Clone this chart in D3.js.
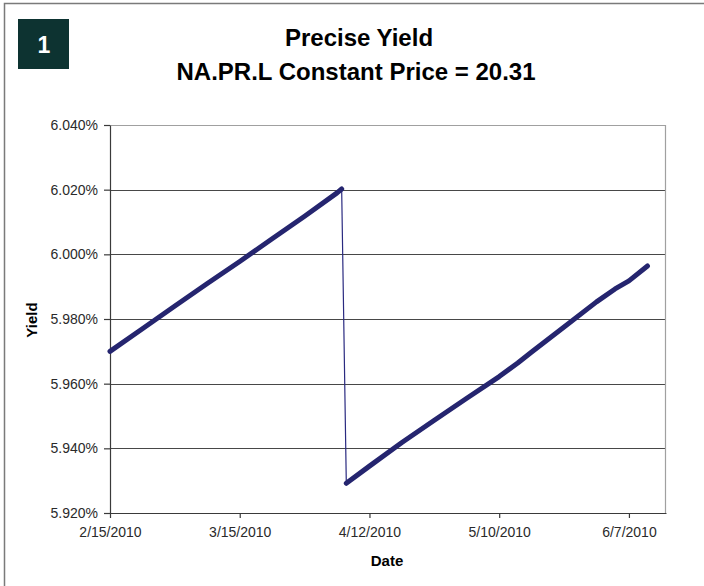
<!DOCTYPE html>
<html>
<head>
<meta charset="utf-8">
<script src="https://cdn.jsdelivr.net/npm/d3@7"></script>
<style>
  body { margin: 0; background: #fff; }
  text { font-family: Arial, "Liberation Sans", sans-serif; }
</style>
</head>
<body>
<div id="chart"></div>
<script>
// Data (yield in %)
var beforeDates = ["2/15/2010", "2/22/2010", "3/1/2010", "3/8/2010", "3/15/2010", "3/22/2010", "3/29/2010", "4/5/2010", "4/6/2010"];
var beforeYields = [5.9700, 5.9770, 5.9840, 5.9910, 5.9978, 6.0048, 6.0118, 6.0190, 6.0202];

var afterDates = ["4/7/2010", "4/12/2010", "4/19/2010", "4/26/2010", "5/3/2010", "5/10/2010", "5/14/2010", "5/17/2010", "5/24/2010", "5/31/2010", "6/4/2010", "6/7/2010", "6/11/2010"];
var afterYields = [5.9292, 5.9345, 5.9418, 5.9487, 5.9555, 5.9622, 5.9664, 5.9698, 5.9775, 5.9853, 5.9893, 5.9918, 5.9964];

var xTickLabels = ["2/15/2010", "3/15/2010", "4/12/2010", "5/10/2010", "6/7/2010"];
var yTicks = [5.92, 5.94, 5.96, 5.98, 6.00, 6.02, 6.04];

var svgWidth = 704;
var svgHeight = 586;

var margin = { top: 125, right: 38, bottom: 73, left: 110 };
var width = svgWidth - margin.left - margin.right;
var height = svgHeight - margin.top - margin.bottom;

var parseDate = d3.utcParse("%m/%d/%Y");

var beforeData = beforeDates.map((d, i) => ({ date: parseDate(d), value: beforeYields[i] }));
var afterData = afterDates.map((d, i) => ({ date: parseDate(d), value: afterYields[i] }));
var allData = beforeData.concat(afterData);

var svg = d3.select("#chart")
  .append("svg")
  .attr("width", svgWidth)
  .attr("height", svgHeight);

// Outer frame (cropped on right and bottom)
svg.append("rect")
  .attr("x", 4.5)
  .attr("y", 3.5)
  .attr("width", 760)
  .attr("height", 640)
  .attr("fill", "none")
  .attr("stroke", "#7a7a7a")
  .attr("stroke-width", 1.5);

// Number badge
svg.append("rect")
  .attr("x", 18)
  .attr("y", 19)
  .attr("width", 51)
  .attr("height", 50)
  .attr("fill", "#0d3331");

svg.append("text")
  .attr("x", 44)
  .attr("y", 53)
  .attr("text-anchor", "middle")
  .attr("fill", "#fff")
  .style("font-size", "23px")
  .style("font-weight", "bold")
  .text("1");

// Titles
svg.append("text")
  .attr("x", 359)
  .attr("y", 46)
  .attr("text-anchor", "middle")
  .style("font-size", "24px")
  .style("font-weight", "bold")
  .text("Precise Yield");

svg.append("text")
  .attr("x", 356)
  .attr("y", 80)
  .attr("text-anchor", "middle")
  .style("font-size", "24px")
  .style("font-weight", "bold")
  .text("NA.PR.L Constant Price = 20.31");

var chartGroup = svg.append("g")
  .attr("transform", `translate(${margin.left}, ${margin.top})`);

// Scales
var xScale = d3.scaleUtc()
  .domain([parseDate("2/15/2010"), parseDate("6/15/2010")])
  .range([0, width]);

var yScale = d3.scaleLinear()
  .domain([5.92, 6.04])
  .range([height, 0]);

// Gridlines
chartGroup.append("g")
  .selectAll("line")
  .data(yTicks.slice(1, -1))
  .enter()
  .append("line")
  .attr("x1", 0)
  .attr("x2", width)
  .attr("y1", d => Math.round(yScale(d)) + 0.5)
  .attr("y2", d => Math.round(yScale(d)) + 0.5)
  .attr("stroke", "#484848")
  .attr("stroke-width", 1.2);

// Top and right border
chartGroup.append("path")
  .attr("d", `M0,0.5H${width - 0.5}V${height}`)
  .attr("fill", "none")
  .attr("stroke", "#a0a0a0")
  .attr("stroke-width", 1.2);

// Axes
var leftAxis = d3.axisLeft(yScale)
  .tickValues(yTicks)
  .tickSize(6)
  .tickSizeOuter(0)
  .tickPadding(6)
  .tickFormat(d => d3.format(".3f")(d) + "%");

var bottomAxis = d3.axisBottom(xScale)
  .tickValues(xTickLabels.map(parseDate))
  .tickSize(5)
  .tickSizeOuter(0)
  .tickPadding(9)
  .tickFormat(d => xTickLabels[xTickLabels.map(s => +parseDate(s)).indexOf(+d)]);

var yAxisG = chartGroup.append("g")
  .call(leftAxis);

var xAxisG = chartGroup.append("g")
  .attr("transform", `translate(0, ${height})`)
  .call(bottomAxis);

[yAxisG, xAxisG].forEach(g => {
  g.select(".domain").attr("stroke", "#3a3a3a").attr("stroke-width", 1.2);
  g.selectAll(".tick line").attr("stroke", "#3a3a3a").attr("stroke-width", 1.2);
  g.selectAll(".tick text")
    .attr("fill", "#2a2a2a")
    .style("font-size", "14px")
    .style("font-family", "Arial, 'Liberation Sans', sans-serif");
});

// Series: thin connecting line through every point
var line = d3.line()
  .x(d => xScale(d.date))
  .y(d => yScale(d.value));

chartGroup.append("path")
  .datum(allData)
  .attr("d", line)
  .attr("fill", "none")
  .attr("stroke", "#2a2a80")
  .attr("stroke-width", 1.2);

// Dense daily markers render as a thick band
[beforeData, afterData].forEach(seg => {
  chartGroup.append("path")
    .datum(seg)
    .attr("d", line)
    .attr("fill", "none")
    .attr("stroke", "#25256f")
    .attr("stroke-width", 5)
    .attr("stroke-linecap", "round")
    .attr("stroke-linejoin", "round");
});

// Axis labels
svg.append("text")
  .attr("x", 387)
  .attr("y", 566)
  .attr("text-anchor", "middle")
  .style("font-size", "15px")
  .style("font-weight", "bold")
  .text("Date");

svg.append("text")
  .attr("transform", "translate(37, 320) rotate(-90)")
  .attr("text-anchor", "middle")
  .style("font-size", "15px")
  .style("font-weight", "bold")
  .text("Yield");
</script>
</body>
</html>
